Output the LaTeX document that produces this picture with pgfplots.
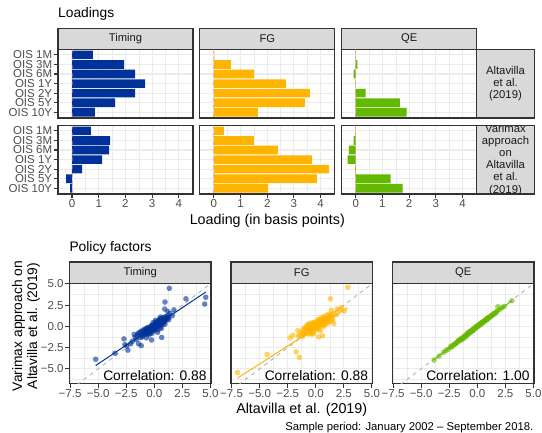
\documentclass[border=0pt]{standalone}
\usepackage{fontspec}
\setmainfont{Liberation Sans}
\usepackage{pgfplots}
\pgfplotsset{compat=1.18}

% ECB palette and theme greys
\definecolor{ecbblue}{HTML}{003299}
\definecolor{ecbyellow}{HTML}{FFB400}
\definecolor{ecbgreen}{HTML}{65B800}
\definecolor{gridgrey}{HTML}{EBEBEB}
\definecolor{framegrey}{HTML}{333333}
\definecolor{stripgrey}{HTML}{D9D9D9}
\definecolor{striptext}{HTML}{1A1A1A}
\definecolor{ticktext}{HTML}{4D4D4D}
\definecolor{zerored}{HTML}{F07880}
\definecolor{refgrey}{HTML}{B3B3B3}

\newcommand\fs[2]{\fontsize{#1}{#2}\selectfont}

\pgfplotsset{
  facet/.style={
    scale only axis, clip=true,
    axis line style={draw=framegrey, line width=1.1pt},
    grid=both,
    major grid style={draw=gridgrey, line width=1.1pt},
    minor grid style={draw=gridgrey, line width=0.55pt},
    tick align=outside, tick pos=left,
    major tick length=4.5pt, minor tick length=0pt,
    tick style={draw=framegrey, line width=1.1pt},
    xticklabel style={font=\fs{11.5}{12}, text=ticktext, inner sep=1.2pt},
    yticklabel style={font=\fs{11.5}{12}, text=ticktext, inner xsep=1.2pt, inner ysep=0.2pt},
  },
  barfacet/.style={facet, width=135pt, height=68.8pt,
    xmin=-0.525, xmax=4.53, ymin=0.4, ymax=7.6, y dir=reverse,
    xtick={0,1,2,3,4}, minor xtick={0.5,1.5,2.5,3.5}, ytick={1,...,7},
    xticklabels={0,1,2,3,4},
    yticklabels={OIS 1M,OIS 3M,OIS 6M,OIS 1Y,OIS 2Y,OIS 5Y,OIS 10Y}},
  scatfacet/.style={facet, width=141.5pt, height=99.8pt,
    xmin=-7.55, xmax=5.05, ymin=-6.7, ymax=5.05,
    xtick={-7.5,-5,-2.5,0,2.5,5}, minor xtick={-6.25,-3.75,-1.25,1.25,3.75},
    ytick={-5,-2.5,0,2.5,5}, minor ytick={-6.25,-3.75,-1.25,1.25,3.75},
    xticklabels={−7.5,−5.0,−2.5,0.0,2.5,5.0},
    yticklabels={−5.0,−2.5,0.0,2.5,5.0}},
  loading/.style={xbar, bar width=0.9, bar shift=0pt, fill=#1, draw=none},
  zeroline/.style={draw=zerored, line width=1pt, dash pattern=on 4pt off 4pt, opacity=0.5},
  pts/.style={only marks, mark=*, mark size=2.8pt, color=#1,
    mark options={draw opacity=0, fill=#1, fill opacity=0.6}},
  fitline/.style={draw=#1, line width=1pt, no marks},
  diag/.style={draw=refgrey, line width=0.9pt, dash pattern=on 4pt off 4pt, no marks},
}

% facet strip: x0, y0, x1, y1, label
\newcommand\strip[5]{%
  \filldraw[fill=stripgrey, draw=framegrey, line width=1.1pt] (#1,#2) rectangle (#3,#4);
  \node[font=\fs{11.2}{12}, text=striptext, inner sep=0pt] at ({(#1+#3)/2},{(#2+#4)/2}) {#5};}

\begin{document}
\begin{tikzpicture}[x=1pt,y=1pt]
\path[use as bounding box] (0,0) rectangle (542,433);

% ---------------- Loadings ----------------
\node[anchor=base west, font=\fs{13.8}{15}, inner sep=0pt] at (58,415) {Loadings};

\strip{58}{383.8}{193}{404.7}{Timing}
\strip{199.8}{383.8}{334.8}{404.7}{FG}
\strip{341.7}{383.8}{476.7}{404.7}{QE}

% row 1: Altavilla et al. (2019)
\begin{axis}[barfacet, at={(58pt,315pt)}, anchor=south west, xmajorticks=false]
  \addplot[loading=ecbblue] coordinates {(0.78,1) (1.95,2) (2.36,3) (2.74,4) (2.36,5) (1.61,6) (0.86,7)};
  \addplot[zeroline] coordinates {(0,0.4) (0,7.6)};
\end{axis}
\begin{axis}[barfacet, at={(199.8pt,315pt)}, anchor=south west, xmajorticks=false, ymajorticks=false]
  \addplot[loading=ecbyellow] coordinates {(0.02,1) (0.64,2) (1.50,3) (2.70,4) (3.60,5) (3.41,6) (1.65,7)};
  \addplot[zeroline] coordinates {(0,0.4) (0,7.6)};
\end{axis}
\begin{axis}[barfacet, at={(341.7pt,315pt)}, anchor=south west, xmajorticks=false, ymajorticks=false]
  \addplot[loading=ecbgreen] coordinates {(0.01,1) (0.06,2) (-0.075,3) (-0.01,4) (0.375,5) (1.65,6) (1.91,7)};
  \addplot[zeroline] coordinates {(0,0.4) (0,7.6)};
\end{axis}

% row 2: varimax rotation
\begin{axis}[barfacet, at={(58pt,239pt)}, anchor=south west]
  \addplot[loading=ecbblue] coordinates {(0.71,1) (1.43,2) (1.39,3) (1.13,4) (0.375,5) (-0.225,6) (-0.075,7)};
  \addplot[zeroline] coordinates {(0,0.4) (0,7.6)};
\end{axis}
\begin{axis}[barfacet, at={(199.8pt,239pt)}, anchor=south west, ymajorticks=false]
  \addplot[loading=ecbyellow] coordinates {(0.375,1) (1.50,2) (2.40,3) (3.68,4) (4.31,5) (3.86,6) (2.03,7)};
  \addplot[zeroline] coordinates {(0,0.4) (0,7.6)};
\end{axis}
\begin{axis}[barfacet, at={(341.7pt,239pt)}, anchor=south west, ymajorticks=false]
  \addplot[loading=ecbgreen] coordinates {(-0.01,1) (-0.075,2) (-0.26,3) (-0.30,4) (-0.02,5) (1.31,6) (1.76,7)};
  \addplot[zeroline] coordinates {(0,0.4) (0,7.6)};
\end{axis}

% row strips
\filldraw[fill=stripgrey, draw=framegrey, line width=1.1pt] (476.7,315) rectangle (534.3,383.8);
\node[font=\fs{11.3}{12.4}, text=striptext, align=center, inner sep=0pt] at (505.5,349.4) {Altavilla\\et al.\\(2019)};
\filldraw[fill=stripgrey, draw=framegrey, line width=1.1pt] (476.7,239) rectangle (534.3,307.8);
\begin{scope}
  \clip (477.3,239.6) rectangle (533.7,307.2);
  \node[font=\fs{11.3}{12.2}, text=striptext, align=center, inner sep=0pt] at (505.5,273.4)
    {Varimax\\approach\\on\\Altavilla\\et al.\\(2019)};
\end{scope}

\node[font=\fs{14.3}{15}] at (267.3,212.5) {Loading (in basis points)};

% ---------------- Policy factors ----------------
\node[anchor=base west, font=\fs{13.8}{15}, inner sep=0pt] at (69.3,181.5) {Policy factors};

\strip{69.5}{149.5}{211}{171}{Timing}
\strip{231}{149.5}{372.5}{171}{FG}
\strip{392.5}{149.5}{534}{171}{QE}

\begin{axis}[scatfacet, at={(69.5pt,49.7pt)}, anchor=south west]
  \addplot[diag] coordinates {(-8,-8) (6,6)};
  \addplot[pts=ecbblue] coordinates {
    (-5.22,-3.87) (-3.50,-3.16) (-2.70,-1.47) (-2.62,-2.15) (-2.46,-2.30) (-2.35,-2.80)
    (-2.10,-2.05) (-1.95,-1.75) (-1.70,-1.25) (-1.60,-1.55) (-1.40,-2.05) (-1.16,-2.26)
    (-0.24,-1.60) (0.66,-1.30) (0.93,2.04) (0.95,2.87) (1.34,4.48) (2.82,3.25)
    (4.58,3.42) (4.49,2.63) (1.40,1.53) (1.20,1.75) (1.75,1.95) (1.60,1.25)
    (-1.50,-1.05) (-1.35,-0.75) (-1.25,-1.30) (-1.15,-0.90) (-1.05,-0.50) (-1.00,-1.10)
    (-0.95,-0.75) (-0.90,-0.35) (-0.85,-0.95) (-0.80,-0.60) (-0.75,-0.30) (-0.70,-0.85)
    (-0.65,-0.50) (-0.60,-0.15) (-0.55,-0.70) (-0.50,-0.40) (-0.48,-1.00) (-0.45,-0.10)
    (-0.40,-0.55) (-0.38,-0.25) (-0.35,-0.80) (-0.30,-0.15) (-0.28,0.05) (-0.25,-0.45)
    (-0.20,-0.10) (-0.18,-0.35) (-0.15,0.15) (-0.10,-0.20) (-0.08,0.05) (-0.05,-0.50)
    (0.00,0.15) (0.02,-0.10) (0.05,0.30) (0.07,-0.35) (0.10,0.00) (0.12,0.40)
    (0.15,-0.15) (0.20,0.20) (0.22,0.55) (0.25,-0.05) (0.30,0.35) (0.32,-0.40)
    (0.35,0.65) (0.40,0.10) (0.42,0.40) (0.45,0.85) (0.50,0.20) (0.52,0.55)
    (0.55,-0.10) (0.60,0.70) (0.62,0.30) (0.65,0.95) (0.70,0.45) (0.75,0.75)
    (0.80,1.05) (0.85,0.50) (0.90,0.85) (0.95,0.25) (1.00,1.15) (1.05,0.70)
    (1.10,0.95) (1.20,1.25) (1.30,0.80) (-0.20,-0.80) (0.30,-0.70) (-0.70,-1.35)
    (0.10,0.70) (-0.10,0.45) (0.55,1.10) (-1.80,-0.95)
    (-1.45,-0.85) (-1.20,-0.60) (-1.10,-1.25) (-0.98,-0.85) (-0.88,-0.55) (-0.78,-0.75)
    (-0.68,-0.25) (-0.58,-0.45) (-0.52,-0.85) (-0.42,-0.35) (-0.33,-0.55) (-0.27,-0.25)
    (-0.22,0.10) (-0.12,-0.45) (-0.03,-0.25) (0.04,0.05) (0.08,0.20) (0.14,-0.30)
    (0.18,0.45) (0.27,0.15) (0.36,0.25) (0.38,0.55) (0.47,0.35) (0.57,0.45)
    (0.68,0.65) (0.72,0.20) (0.83,0.80) (0.92,0.60) (1.02,0.90) (1.15,1.05)
    (1.25,1.00) (0.48,0.70) (-0.62,-0.65) (0.62,-0.25)};
  \addplot[fitline=ecbblue] coordinates {(-5.22,-4.61) (4.59,4.05)};
  \node[anchor=base east, font=\fs{13.8}{15}, inner sep=0pt] at (rel axis cs:0.97,0.028) {Correlation: 0.88};
\end{axis}

\begin{axis}[scatfacet, at={(231pt,49.7pt)}, anchor=south west, ymajorticks=false]
  \addplot[diag] coordinates {(-8,-8) (6,6)};
  \addplot[pts=ecbyellow] coordinates {
    (-6.97,-5.42) (-4.33,-3.30) (-2.30,-1.35) (-2.05,-1.05) (-1.75,-3.00) (-1.46,-3.66)
    (-1.57,-1.14) (-1.20,-1.20) (0.26,-1.22) (0.60,-1.10) (2.84,4.60) (1.30,3.25)
    (2.54,1.80) (1.60,0.35) (2.10,1.95) (1.85,1.40) (1.40,1.90) (2.30,2.20) (1.90,2.05)
    (-1.30,-0.70) (-1.15,-0.40) (-1.05,-0.95) (-1.00,-0.20) (-0.90,-0.60) (-0.85,0.05)
    (-0.80,-0.85) (-0.75,-0.35) (-0.70,0.20) (-0.65,-0.55) (-0.60,-0.10) (-0.55,0.35)
    (-0.50,-0.75) (-0.48,-0.30) (-0.45,0.10) (-0.40,-0.50) (-0.35,0.40) (-0.30,-0.15)
    (-0.28,0.15) (-0.25,-0.60) (-0.20,0.00) (-0.15,0.50) (-0.12,-0.30) (-0.10,0.25)
    (-0.05,-0.05) (0.00,0.45) (0.02,-0.40) (0.05,0.15) (0.10,0.60) (0.12,-0.10)
    (0.15,0.35) (0.20,0.80) (0.22,0.05) (0.25,0.50) (0.30,-0.25) (0.35,0.70)
    (0.40,0.25) (0.45,1.00) (0.50,0.50) (0.55,0.10) (0.60,0.85) (0.65,0.40)
    (0.70,1.15) (0.75,0.65) (0.80,0.20) (0.85,1.00) (0.90,0.55) (0.95,1.30)
    (1.00,0.75) (1.05,0.35) (1.10,1.10) (1.15,0.80) (1.20,1.45) (1.25,0.60)
    (1.30,1.05) (1.40,1.25) (1.50,0.95) (1.60,1.50) (-0.60,-0.90) (-0.20,-0.85)
    (0.40,-0.50) (-1.60,-0.50) (-1.40,-1.00)
    (-1.10,-0.70) (-0.95,-0.30) (-0.78,-0.10) (-0.68,-0.45) (-0.58,0.10) (-0.42,-0.20)
    (-0.32,0.25) (-0.22,-0.40) (-0.18,0.30) (-0.08,0.10) (0.03,0.25) (0.08,-0.20)
    (0.13,0.45) (0.18,0.10) (0.28,0.60) (0.33,0.20) (0.38,0.45) (0.48,0.75)
    (0.53,0.30) (0.63,0.65) (0.68,0.95) (0.78,0.45) (0.88,0.80) (0.98,1.05)
    (1.08,0.60) (1.18,1.00) (1.35,1.40) (0.70,0.00) (-0.35,-0.90) (1.45,0.70)};
  \addplot[fitline=ecbyellow] coordinates {(-6.97,-6.09) (2.84,2.20)};
  \node[anchor=base east, font=\fs{13.8}{15}, inner sep=0pt] at (rel axis cs:0.97,0.028) {Correlation: 0.88};
\end{axis}

\begin{axis}[scatfacet, at={(392.5pt,49.7pt)}, anchor=south west, ymajorticks=false]
  \addplot[diag] coordinates {(-8,-8) (6,6)};
  \addplot[pts=ecbgreen] coordinates {
    (-3.85,-3.97) (-3.40,-3.50) (-3.00,-3.05) (-2.60,-2.70) (-2.40,-2.45) (-2.25,-2.40)
    (-2.10,-2.15) (-2.00,-2.10) (-1.90,-1.95) (-1.80,-1.90) (-1.70,-1.70) (-1.60,-1.70)
    (-1.50,-1.50) (-1.45,-1.60) (-1.40,-1.40) (-1.30,-1.35) (-1.25,-1.45) (-1.20,-1.20)
    (-1.10,-1.15) (-1.05,-1.25) (-1.00,-1.00) (-0.95,-1.05) (-0.90,-0.85) (-0.85,-0.95)
    (-0.80,-0.80) (-0.75,-0.70) (-0.70,-0.80) (-0.65,-0.60) (-0.60,-0.70) (-0.55,-0.55)
    (-0.50,-0.45) (-0.45,-0.55) (-0.40,-0.40) (-0.35,-0.30) (-0.30,-0.40) (-0.25,-0.20)
    (-0.20,-0.25) (-0.15,-0.10) (-0.10,-0.15) (-0.05,0.00) (0.00,-0.05) (0.05,0.10)
    (0.10,0.05) (0.15,0.20) (0.20,0.15) (0.25,0.30) (0.30,0.25) (0.35,0.40)
    (0.40,0.35) (0.45,0.50) (0.50,0.45) (0.55,0.60) (0.60,0.55) (0.70,0.75)
    (0.75,0.70) (0.80,0.85) (0.90,0.95) (0.95,0.90) (1.00,1.05) (1.10,1.10)
    (1.20,1.25) (1.30,1.30) (1.40,1.45) (1.50,1.50) (1.60,1.55) (1.70,1.75)
    (1.83,2.31) (2.00,2.00) (2.40,2.35) (3.08,3.02)
    (-2.30,-2.30) (-1.95,-2.05) (-1.65,-1.65) (-1.35,-1.50) (-1.15,-1.20) (-0.88,-0.92)
    (-0.62,-0.62) (-0.38,-0.45) (-0.12,-0.08) (0.12,0.15) (0.38,0.38) (0.65,0.65)
    (0.85,0.80) (1.05,1.00) (1.25,1.20) (1.45,1.40) (1.75,1.70) (2.20,2.20)
    (-2.80,-2.85) (-0.70,-0.65)};
  \addplot[fitline=ecbgreen] coordinates {(-3.85,-3.90) (3.08,3.03)};
  \node[anchor=base east, font=\fs{13.8}{15}, inner sep=0pt] at (rel axis cs:0.97,0.028) {Correlation: 1.00};
\end{axis}

\node[font=\fs{13.8}{15}, rotate=90, align=center] at (26,107) {Varimax approach on\\Altavilla et al. (2019)};
\node[font=\fs{14.3}{15}] at (301.7,23.5) {Altavilla et al. (2019)};
\node[anchor=base east, font=\fs{11.3}{12}, inner sep=0pt] at (533.5,2.5) {Sample period: January 2002 – September 2018.};
\end{tikzpicture}
\end{document}
